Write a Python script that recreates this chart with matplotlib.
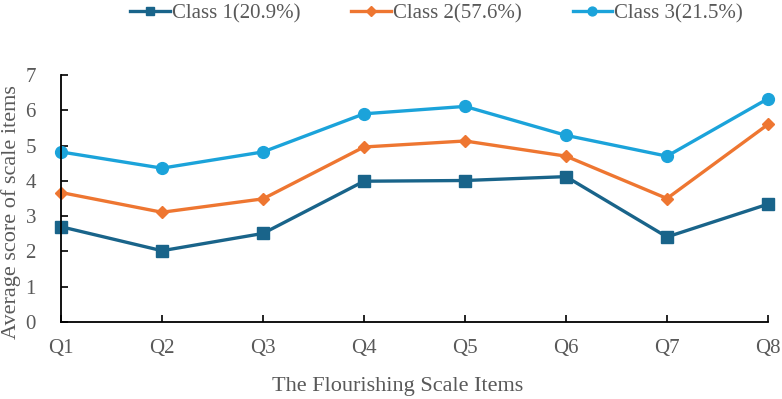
import matplotlib
matplotlib.use("Agg")
import matplotlib.pyplot as plt

items = ["Q1", "Q2", "Q3", "Q4", "Q5", "Q6", "Q7", "Q8"]
class1 = [2.70, 2.02, 2.51, 3.99, 4.01, 4.12, 2.41, 3.34]
class2 = [3.67, 3.11, 3.49, 4.96, 5.13, 4.70, 3.50, 5.60]
class3 = [4.82, 4.36, 4.82, 5.90, 6.11, 5.29, 4.70, 6.33]
labels = ["Class 1(20.9%)", "Class 2(57.6%)", "Class 3(21.5%)"]

plt.rcParams['font.family'] = ['Liberation Serif', 'DejaVu Serif']
txt = '#595959'

fig = plt.figure(figsize=(7.82, 3.99), dpi=100)
ax = fig.add_axes([61/782, 77/399, (768-61)/782, (322-75)/399])
x = list(range(len(items)))
ax.plot(x, class1, color='#19648A', lw=2.4, marker='s', ms=8.5, label=labels[0])
ax.plot(x, class2, color='#EE7631', lw=2.4, marker='D', ms=6.5, label=labels[1])
ax.plot(x, class3, color='#1BA3DA', lw=2.4, marker='o', ms=8.5, label=labels[2])

ax.set_xlim(0, 7)
ax.set_ylim(0, 7)
ax.set_xticks(x)
ax.set_xticklabels(items)
ax.set_yticks(range(0, 8))
ax.tick_params(axis='x', direction='in', length=5, width=1.2, colors='black', labelcolor=txt, labelsize=15, pad=12)
ax.tick_params(axis='y', direction='in', length=5, width=1.2, colors='black', labelcolor=txt, labelsize=15, pad=18)
for s in ['top', 'right']:
    ax.spines[s].set_visible(False)
for s in ['left', 'bottom']:
    ax.spines[s].set_linewidth(1.3)
    ax.spines[s].set_color('black')
for ln in ax.get_lines():
    ln.set_clip_on(False)

ax.set_xlabel("The Flourishing Scale Items", fontsize=16, color=txt)
ax.xaxis.set_label_coords((398-61)/707, (322-377)/247)
ax.set_ylabel("Average score of scale items", fontsize=16, color=txt)
ax.yaxis.set_label_coords((21-61)/707, (322-212)/247)

leg = fig.legend(loc='upper left', bbox_to_anchor=(130/782, 1 - 4/399), ncol=3, frameon=False,
                 fontsize=15, handlelength=1.9, columnspacing=2.45, handletextpad=0.1,
                 markerscale=0.75, borderpad=0, borderaxespad=0)
for t in leg.get_texts():
    t.set_color(txt)

fig.savefig("out.png", dpi=100)
